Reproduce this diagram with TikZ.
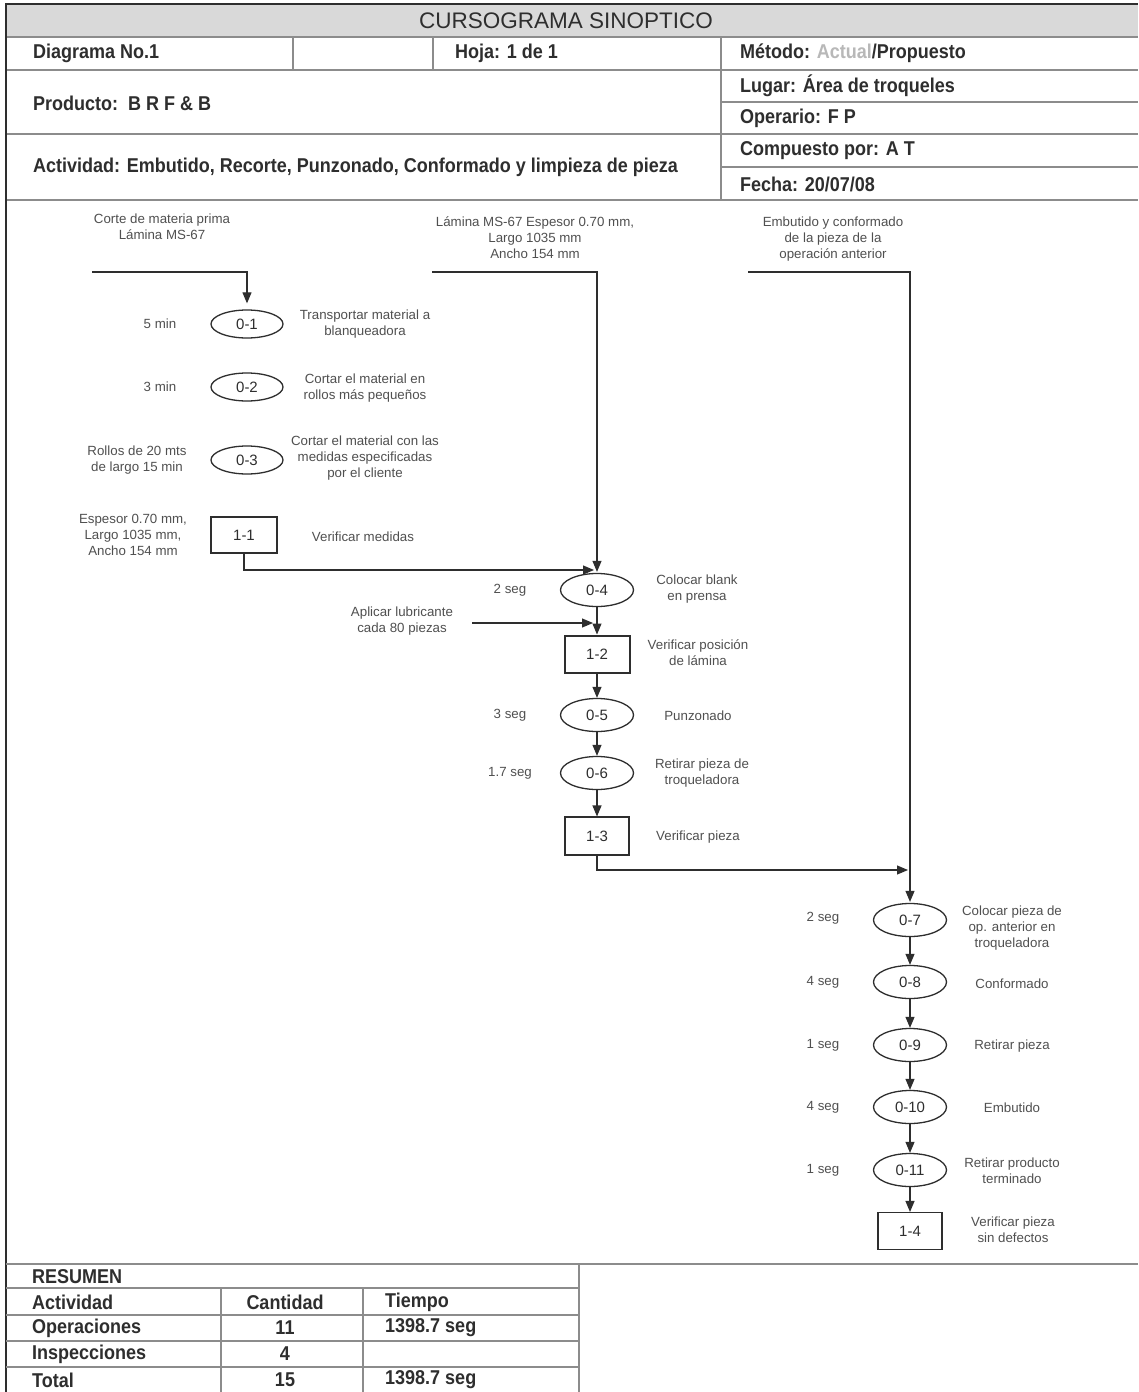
\documentclass[tikz,border=0pt]{standalone}
\usepackage{fontspec}
\setmainfont{Liberation Sans}
\newfontfamily\condfont[FakeStretch=0.9]{Liberation Sans}
\usetikzlibrary{shapes.geometric,arrows.meta}
\definecolor{ink}{HTML}{2E2E2E}
\definecolor{soft}{HTML}{505050}
\definecolor{rulec}{HTML}{8C8C8C}
\definecolor{band}{HTML}{D9D9D9}
\definecolor{faint}{HTML}{B8B8B8}
\begin{document}
\begin{tikzpicture}[x=1pt,y=-1pt,
 hd/.style={font=\condfont\bfseries\fontsize{20}{23}\selectfont, text=ink, anchor=west, inner sep=0},
 tbc/.style={font=\condfont\bfseries\fontsize{20}{23}\selectfont, text=ink, inner sep=0},
 sm/.style={font=\fontsize{13.3}{16}\selectfont, text=soft, align=center, inner sep=0},
 op/.style={ellipse, draw=ink, line width=1.3pt, minimum width=73pt, minimum height=33pt, inner sep=0, font=\fontsize{15}{15}\selectfont, text=ink},
 opsm/.style={op, minimum width=72pt, minimum height=28pt},
 insp/.style={rectangle, draw=ink, line width=1.1pt, minimum width=65pt, minimum height=37pt, inner sep=0, font=\fontsize{15}{15}\selectfont, text=ink},
 flow/.style={draw=ink, line width=1.1pt, -{Triangle[length=11pt,width=9pt]}},
 hl/.style={draw=rulec, line width=1.6pt}
]
\path[use as bounding box, fill=white] (0,0) rectangle (1138,1392);

% ---------- header ----------
\fill[band] (6,4) rectangle (1138,37);
\node[font=\fontsize{22.5}{24}\selectfont, text=ink, inner sep=0] (title) at (566,21) {CURSOGRAMA SINOPTICO};
\draw[hl] (6,37) -- (1138,37);
\draw[hl] (6,70) -- (1138,70);
\draw[hl] (293,37) -- (293,70);
\draw[hl] (433,37) -- (433,70);
\draw[hl] (721,37) -- (721,200);
\draw[hl] (721,102) -- (1138,102);
\draw[hl] (6,134) -- (1138,134);
\draw[hl] (721,167) -- (1138,167);
\draw[hl] (6,200) -- (1138,200);
\draw[ink, line width=2.6pt] (5,4) -- (1138,4);
\draw[ink, line width=2pt] (6,4) -- (6,1392);

\node[hd] (dg) at (33,53) {Diagrama No.1};
\node[hd] (hj) at (455,53) {Hoja: 1 de 1};
\node[hd] (met) at (740,53) {Método: {\color{faint}Actual}/Propuesto};
\node[hd] (lug) at (740,86) {Lugar: Área de troqueles};
\node[hd] (opr) at (740,118) {Operario: F P};
\node[hd] (cmp) at (740,151) {Compuesto por: A T};
\node[hd] (fch) at (740,184) {Fecha: 20/07/08};
\node[hd] (prd) at (33,103) {Producto:\ \ B R F \& B};
\node[hd] (act) at (33,167) {Actividad: Embutido, Recorte, Punzonado, Conformado y limpieza de pieza};

% ---------- left column ----------
\node[sm] (inA) at (162,227) {Corte de materia prima\\Lámina MS-67};
\coordinate (sA) at (92,272);
\node[opsm] (o1) at (247,324) {0-1};
\node[opsm] (o2) at (247,387) {0-2};
\node[opsm] (o3) at (247,460) {0-3};
\node[insp, minimum width=66pt, minimum height=36pt] (i1) at (244,535) {1-1};
\node[sm] (t1) at (160,324) {5 min};
\node[sm] (t2) at (160,387) {3 min};
\node[sm] (t3) at (137,460) {Rollos de 20 mts\\de largo 15 min};
\node[sm] (t4) at (133,535) {Espesor 0.70 mm,\\Largo 1035 mm,\\Ancho 154 mm};
\node[sm] (d1) at (365,324) {Transportar material a\\blanqueadora};
\node[sm] (d2) at (365,388) {Cortar el material en\\rollos más pequeños};
\node[sm] (d3) at (365,458) {Cortar el material con las\\medidas especificadas\\por el cliente};
\node[sm] (d4) at (363,537) {Verificar medidas};

% ---------- middle column ----------
\node[sm] (inB) at (535,238) {Lámina MS-67 Espesor 0.70 mm,\\Largo 1035 mm\\Ancho 154 mm};
\coordinate (sB) at (432,272);
\node[op] (o4) at (597,590) {0-4};
\node[insp, line width=2pt] (i2) at (597,654) {1-2};
\node[op] (o5) at (597,715) {0-5};
\node[op] (o6) at (597,773) {0-6};
\node[insp, minimum width=64pt, minimum height=38pt] (i3) at (597,836) {1-3};
\node[sm] (t5) at (510,590) {2 seg};
\node[sm] (t6) at (510,715) {3 seg};
\node[sm] (t7) at (510,773) {1.7 seg};
\node[sm] (d5) at (697,589) {Colocar blank\\en prensa};
\node[sm] (lub) at (402,621) {Aplicar lubricante\\cada 80 piezas};
\coordinate (sL) at (472,623);
\coordinate (jL) at (593,623);
\coordinate (j4) at (594,570);
\node[sm] (d6) at (698,653) {Verificar posición\\de lámina};
\node[sm] (d7) at (698,716) {Punzonado};
\node[sm] (d8) at (702,773) {Retirar pieza de\\troqueladora};
\node[sm] (d9) at (698,837) {Verificar pieza};

% ---------- right column ----------
\node[sm] (inC) at (833,239) {Embutido y conformado\\de la pieza de la\\operación anterior};
\coordinate (sC) at (748,272);
\coordinate (j7) at (908,870);
\node[op] (o7) at (910,920) {0-7};
\node[op] (o8) at (910,982) {0-8};
\node[op] (o9) at (910,1045) {0-9};
\node[op] (o10) at (910,1107) {0-10};
\node[op] (o11) at (910,1170) {0-11};
\node[insp, minimum width=64pt] (i4) at (910,1231) {1-4};
\node[sm] (t8) at (823,918) {2 seg};
\node[sm] (t9) at (823,982) {4 seg};
\node[sm] (t10) at (823,1045) {1 seg};
\node[sm] (t11) at (823,1107) {4 seg};
\node[sm] (t12) at (823,1170) {1 seg};
\node[sm] (d10) at (1012,928) {Colocar pieza de\\op. anterior en\\troqueladora};
\node[sm] (d11) at (1012,984) {Conformado};
\node[sm] (d12) at (1012,1046) {Retirar pieza};
\node[sm] (d13) at (1012,1108) {Embutido};
\node[sm] (d14) at (1012,1171) {Retirar producto\\terminado};
\node[sm] (d15) at (1013,1230) {Verificar pieza\\sin defectos};

% ---------- connectors ----------
\draw[flow, shorten >=6pt] (sA) -| (o1.north);
\draw[flow] (i1.south) |- (j4);
\draw[flow, shorten >=1pt] (sB) -| (o4.north);
\draw[flow] (o4.south) -- (i2.north);
\draw[flow] (sL) -- (jL);
\draw[flow] (i2.south) -- (o5.north);
\draw[flow] (o5.south) -- (o6.north);
\draw[flow] (o6.south) -- (i3.north);
\draw[flow] (i3.south) |- (j7);
\draw[flow, shorten >=1pt] (sC) -| (o7.north);
\draw[flow] (o7.south) -- (o8.north);
\draw[flow] (o8.south) -- (o9.north);
\draw[flow] (o9.south) -- (o10.north);
\draw[flow] (o10.south) -- (o11.north);
\draw[flow] (o11.south) -- (i4.north);

% ---------- summary table ----------
\draw[hl] (6,1264) -- (1138,1264);
\draw[hl] (579,1264) -- (579,1392);
\draw[hl] (6,1288) -- (579,1288);
\draw[hl] (6,1315) -- (579,1315);
\draw[hl] (6,1341) -- (579,1341);
\draw[hl] (6,1367) -- (579,1367);
\draw[hl] (221,1288) -- (221,1392);
\draw[hl] (363,1288) -- (363,1392);
\node[hd] (r0) at (32,1277) {RESUMEN};
\node[hd] (r1) at (32,1302) {Actividad};
\node[hd] (r2) at (32,1328) {Operaciones};
\node[hd] (r3) at (32,1354) {Inspecciones};
\node[hd] (r4) at (32,1380) {Total};
\node[tbc] (c1) at (285,1302) {Cantidad};
\node[tbc] (c2) at (285,1328) {11};
\node[tbc] (c3) at (285,1354) {4};
\node[tbc] (c4) at (285,1380) {15};
\node[hd] (m1) at (385,1302) {Tiempo};
\node[hd] (m2) at (385,1328) {1398.7 seg};
\node[hd] (m4) at (385,1380) {1398.7 seg};
\end{tikzpicture}
\end{document}
